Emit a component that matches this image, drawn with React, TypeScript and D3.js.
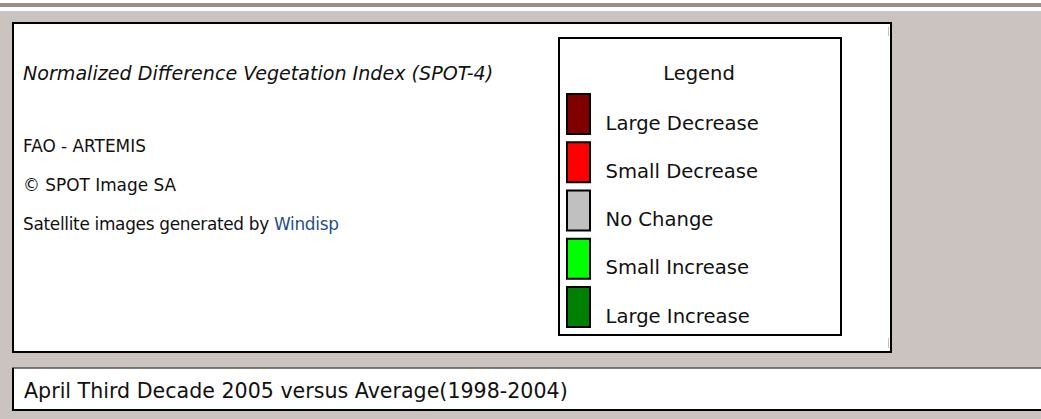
import React, { useRef, useEffect } from "react";
import * as d3 from "d3";

// legend entries of the NDVI difference map
const legendLabels = [
  "Large Decrease",
  "Small Decrease",
  "No Change",
  "Small Increase",
  "Large Increase",
];
const legendColors = ["#800000", "#ff0000", "#c0c0c0", "#00ff00", "#008000"];

const titleText = "Normalized Difference Vegetation Index (SPOT-4)";
const creditLines = ["FAO - ARTEMIS", "\u00a9 SPOT Image SA", "Satellite images generated by "];
const linkText = "Windisp";
const captionText = "April Third Decade 2005 versus Average(1998-2004)";

const WIDTH = 1041;
const HEIGHT = 419;
const FONT = "'DejaVu Sans', Verdana, sans-serif";

const App = () => {
  const svgRef = useRef<SVGSVGElement>(null);

  useEffect(() => {
    const svg = d3.select(svgRef.current);
    svg.selectAll("*").remove();
    svg.attr("width", WIDTH).attr("height", HEIGHT);

    // page background + top rule
    svg.append("rect").attr("width", WIDTH).attr("height", HEIGHT).attr("fill", "#cbc3c0");
    svg.append("rect").attr("width", WIDTH).attr("height", 11).attr("fill", "#ffffff");
    svg.append("rect").attr("y", 3).attr("width", WIDTH).attr("height", 4).attr("fill", "#9c8c86");

    // main panel
    svg
      .append("rect")
      .attr("x", 13)
      .attr("y", 23)
      .attr("width", 878)
      .attr("height", 329)
      .attr("fill", "#fff")
      .attr("stroke", "#000")
      .attr("stroke-width", 2);

    // little scrollbar remnants
    [[27, 36], [338, 348]].forEach(([a, b]) => {
      svg.append("line").attr("x1", 888.5).attr("x2", 888.5).attr("y1", a).attr("y2", b)
        .attr("stroke", "#c8c0bc").attr("stroke-width", 1);
    });

    // title + credits
    svg
      .append("text")
      .attr("x", 23)
      .attr("y", 80)
      .attr("font-family", FONT)
      .attr("font-style", "italic")
      .attr("font-size", 19.1)
      .attr("fill", "#111")
      .text(titleText);

    const creditY = d3.scalePoint<string>().domain(creditLines).range([151.7, 230]);
    const credits = svg
      .selectAll(".credit")
      .data(creditLines)
      .enter()
      .append("text")
      .attr("class", "credit")
      .attr("x", 23)
      .attr("y", (d) => creditY(d) as number)
      .attr("font-family", FONT)
      .attr("font-size", 16.9)
      .attr("letter-spacing", (d, i) => (i === creditLines.length - 1 ? -0.3 : 0))
      .attr("fill", "#111")
      .text((d) => d);
    credits
      .filter((d, i) => i === creditLines.length - 1)
      .append("tspan")
      .attr("fill", "#1f4f8c")
      .text(linkText);

    // legend box
    svg
      .append("rect")
      .attr("x", 559)
      .attr("y", 38)
      .attr("width", 282)
      .attr("height", 297)
      .attr("fill", "#fff")
      .attr("stroke", "#000")
      .attr("stroke-width", 2);

    svg
      .append("text")
      .attr("x", 699)
      .attr("y", 80)
      .attr("text-anchor", "middle")
      .attr("font-family", FONT)
      .attr("font-size", 19.5)
      .attr("fill", "#111")
      .text("Legend");

    const color = d3.scaleOrdinal<string, string>().domain(legendLabels).range(legendColors);
    const rowY = d3.scaleBand<string>().domain(legendLabels).range([93, 328]).paddingInner(0.13);

    const rows = svg
      .selectAll(".row")
      .data(legendLabels)
      .enter()
      .append("g")
      .attr("class", "row")
      .attr("transform", (d) => `translate(0,${rowY(d)})`);

    rows
      .append("rect")
      .attr("x", 567)
      .attr("y", 1)
      .attr("width", 23)
      .attr("height", rowY.bandwidth() - 2)
      .attr("fill", (d) => color(d))
      .attr("stroke", "#000")
      .attr("stroke-width", 2);

    rows
      .append("text")
      .attr("x", 605.5)
      .attr("y", 36.5)
      .attr("font-family", FONT)
      .attr("font-size", 19.6)
      .attr("fill", "#111")
      .text((d) => d);

    // caption strip
    svg.append("rect").attr("x", 12).attr("y", 367.5).attr("width", WIDTH).attr("height", 42.5).attr("fill", "#fff");
    svg.append("line").attr("x1", 12).attr("x2", WIDTH).attr("y1", 368).attr("y2", 368).attr("stroke", "#000").attr("stroke-width", 1);
    svg.append("line").attr("x1", 12).attr("x2", WIDTH).attr("y1", 410).attr("y2", 410).attr("stroke", "#000").attr("stroke-width", 2);
    svg.append("line").attr("x1", 13).attr("x2", 13).attr("y1", 368).attr("y2", 411).attr("stroke", "#000").attr("stroke-width", 2);

    svg
      .append("text")
      .attr("x", 24)
      .attr("y", 398)
      .attr("font-family", FONT)
      .attr("font-size", 20.6)
      .attr("fill", "#111")
      .text(captionText);
  }, []);

  return <svg ref={svgRef} style={{ position: "absolute", left: 0, top: 0, display: "block" }}></svg>;
};

export default App;
